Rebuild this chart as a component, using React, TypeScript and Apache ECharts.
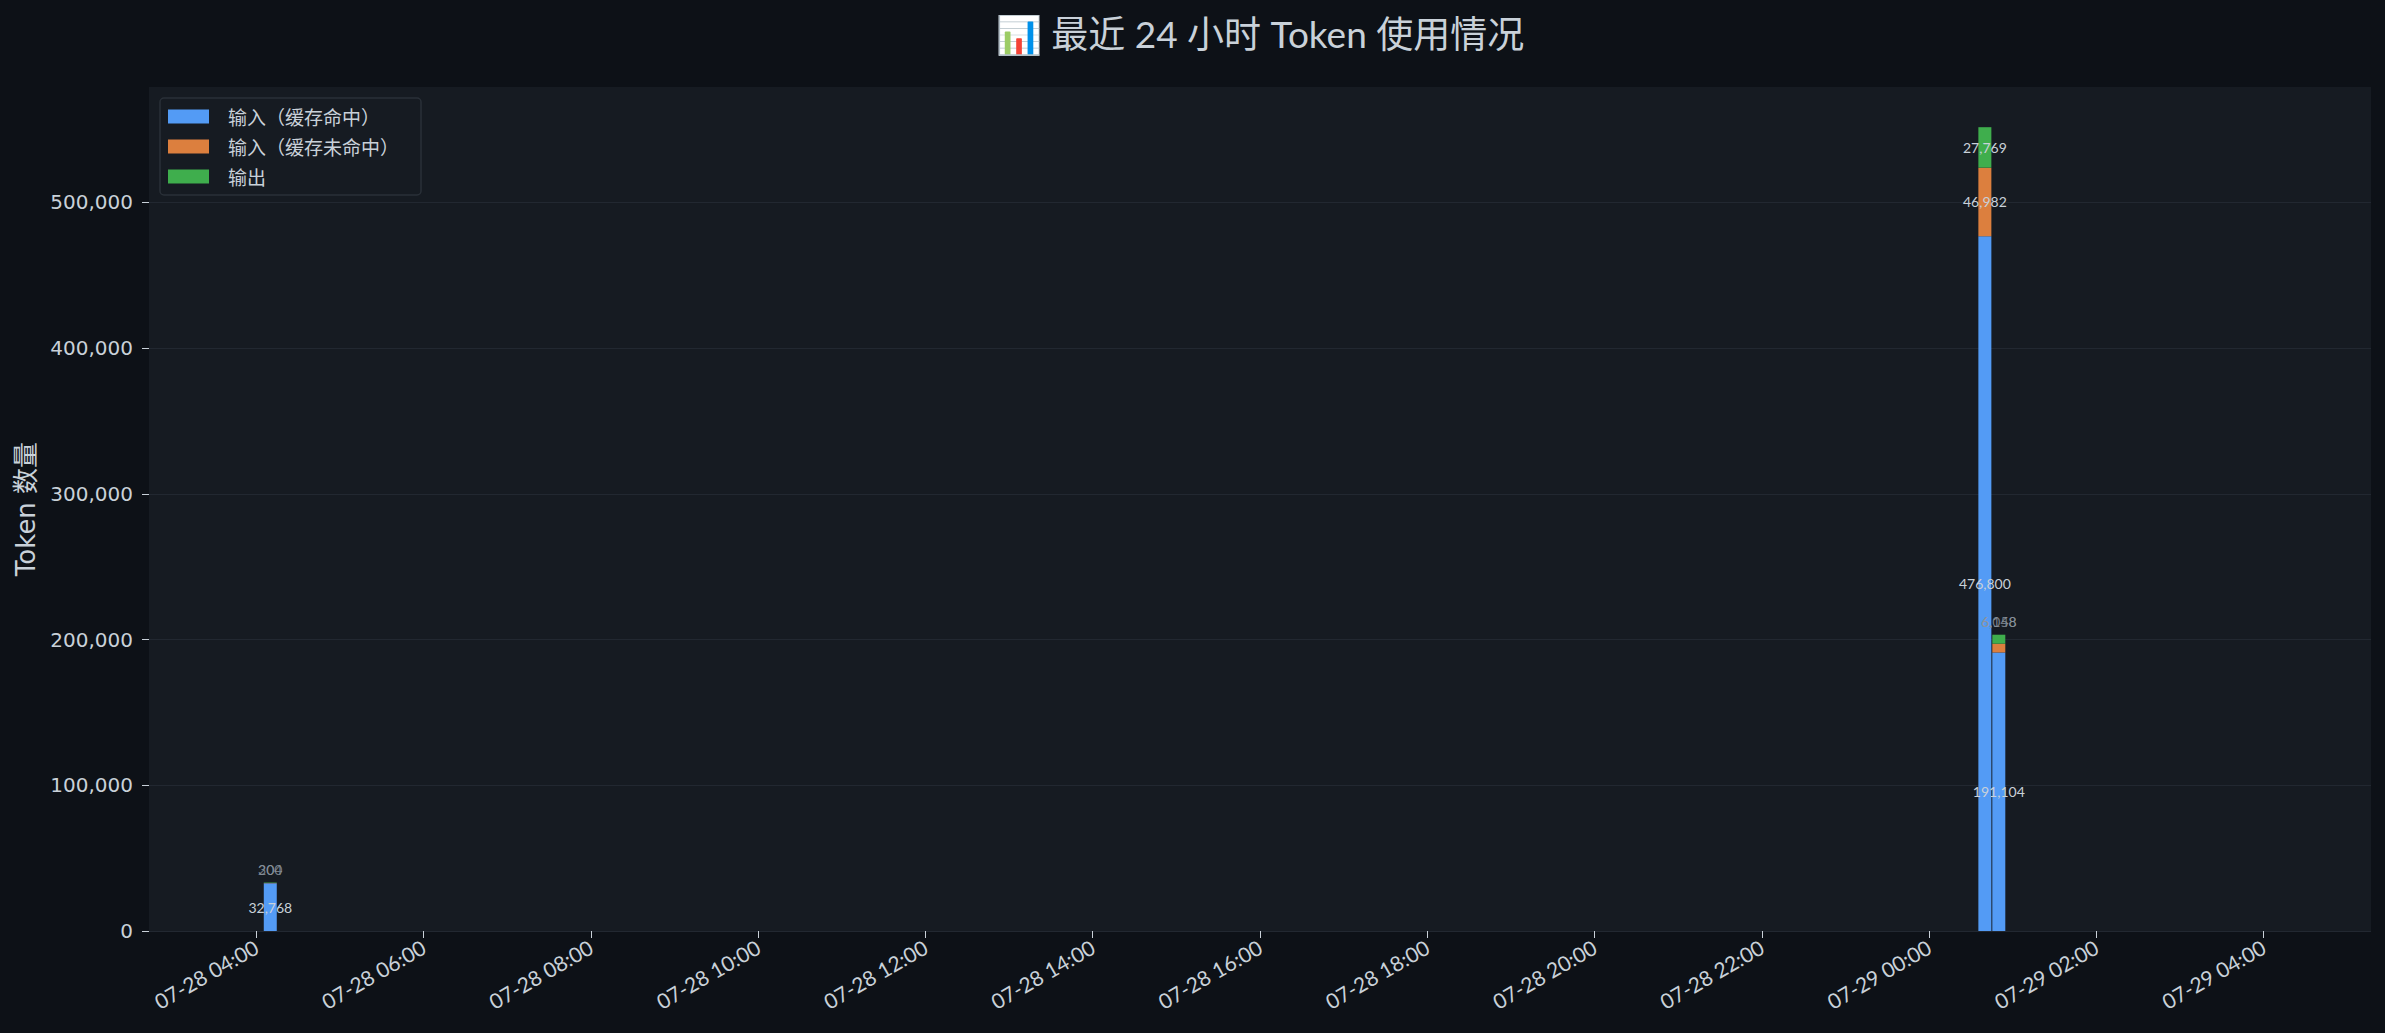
import React, { useEffect, useRef } from 'react';
import * as echarts from 'echarts';

// 10-minute slots that have usage (MM-DD HH:mm)
const slots = ['07-28 04:10', '07-29 00:40', '07-29 00:50'];
const cacheHit = [32768, 476800, 191104];
const cacheMiss = [200, 46982, 6048];
const outputTokens = [304, 27769, 6158];

const seriesNames = ['输入（缓存命中）', '输入（缓存未命中）', '输出'];
const seriesColors = ['#539bf5', '#dc7f3e', '#3fae4d'];

const xTicks = [
  '07-28 04:00', '07-28 06:00', '07-28 08:00', '07-28 10:00', '07-28 12:00',
  '07-28 14:00', '07-28 16:00', '07-28 18:00', '07-28 20:00', '07-28 22:00',
  '07-29 00:00', '07-29 02:00', '07-29 04:00',
];
const xStart = '07-28 02:43';
const xEnd = '07-29 05:17';
const yTicks = [0, 100000, 200000, 300000, 400000, 500000];
const yMax = 579128;

const TEXT = '#c9d1d9';
const GRID = { left: 149, right: 14, top: 87, bottom: 102 };
const CHART_W = 2385;
const BAR_W = 13;

const pad = (n: number) => String(n).padStart(2, '0');
// times are kept in UTC so the page's time zone does not matter
const toMs = (s: string) => {
  const [date, time] = s.split(' ');
  const [mo, day] = date.split('-').map(Number);
  const [h, m] = time.split(':').map(Number);
  return Date.UTC(2025, mo - 1, day, h, m);
};
const fmtTime = (v: number) => {
  const d = new Date(v);
  return `${pad(d.getUTCMonth() + 1)}-${pad(d.getUTCDate())} ${pad(d.getUTCHours())}:${pad(d.getUTCMinutes())}`;
};
const fmtNum = (v: number) => v.toLocaleString('en-US');

const App: React.FC = () => {
  const chartRef = useRef<HTMLDivElement>(null);

  useEffect(() => {
    if (!chartRef.current) return;
    const chart = echarts.init(chartRef.current, null, { renderer: 'svg' });

    const xs = slots.map(toMs);
    const groups = [cacheHit, cacheMiss, outputTokens];
    const totals = xs.map((_, j) => groups.reduce((s, g) => s + g[j], 0));
    const maxTotal = Math.max(...totals);
    const threshold = maxTotal * 0.03;
    const lift = yMax * 0.016;

    // echarts widens a bar axis by one bar width; shrink the requested extent
    // so that after widening it equals the label axis extent
    const x0 = toMs(xStart);
    const x1 = toMs(xEnd);
    const plotW = CHART_W - GRID.left - GRID.right;
    const trim = ((x1 - x0) * BAR_W) / plotW / 2;

    const barSeries = groups.map((vals, i) => ({
      name: seriesNames[i],
      type: 'bar',
      stack: 'tokens',
      xAxisIndex: 0,
      barWidth: BAR_W,
      itemStyle: { color: seriesColors[i] },
      label: {
        show: true,
        position: 'inside',
        color: TEXT,
        fontFamily: 'Lato',
        fontSize: 14,
        formatter: (p: any) => fmtNum(p.value[1]),
      },
      data: vals.map((v, j) => ({
        value: [xs[j], v],
        label: { show: v >= threshold },
      })),
    }));

    // segments too thin for an inside label get theirs just above the stack
    const smallLabels: any[] = [];
    groups.forEach((vals) => {
      vals.forEach((v, j) => {
        if (v < threshold) smallLabels.push([xs[j], totals[j] + lift, v]);
      });
    });

    const tickValues = xTicks.map(toMs);

    chart.setOption({
      animation: false,
      backgroundColor: '#0d1117',
      graphic: [
        {
          type: 'text',
          x: 1260,
          y: 33,
          style: {
            text: '📊 最近 24 小时 Token 使用情况',
            fill: TEXT,
            fontSize: 37,
            fontFamily: "Lato, 'Noto Sans CJK SC'",
            textAlign: 'center',
            textVerticalAlign: 'middle',
          },
        },
      ],
      grid: {
        ...GRID,
        show: true,
        backgroundColor: '#161b22',
        borderWidth: 0,
      },
      legend: {
        data: seriesNames,
        orient: 'vertical',
        left: 160,
        top: 98,
        icon: 'rect',
        itemWidth: 41,
        itemHeight: 14,
        itemGap: 11,
        padding: [9, 22, 9, 8],
        backgroundColor: '#161b22',
        borderColor: '#2a3038',
        borderWidth: 1.5,
        borderRadius: 4,
        textStyle: {
          color: TEXT,
          fontSize: 19,
          fontFamily: "'Noto Sans CJK SC'",
          padding: [0, 0, 0, 14],
        },
      },
      xAxis: [
        {
          // time axis carries the bars (stacks by index)
          type: 'time',
          min: x0 + trim,
          max: x1 - trim,
          axisLine: { show: false },
          axisTick: { show: false },
          axisLabel: { show: false },
          splitLine: { show: false },
        },
        {
          // value axis with the same extent draws the 2-hour ticks and labels
          type: 'value',
          position: 'bottom',
          min: x0,
          max: x1,
          axisLine: { show: false },
          splitLine: { show: false },
          axisTick: {
            show: true,
            length: 7,
            lineStyle: { color: TEXT },
            customValues: tickValues,
          },
          axisLabel: {
            customValues: tickValues,
            formatter: (v: number) => fmtTime(v),
            rotate: 30,
            margin: 14,
            color: TEXT,
            fontSize: 21,
            fontFamily: 'Lato',
          },
        },
      ],
      yAxis: {
        type: 'value',
        min: 0,
        max: yMax,
        name: 'Token 数量',
        nameLocation: 'middle',
        nameGap: 110,
        nameTextStyle: {
          color: TEXT,
          fontSize: 26,
          fontFamily: "'DejaVu Sans', 'Noto Sans CJK SC'",
        },
        axisLine: { show: false },
        axisTick: {
          show: true,
          length: 7,
          lineStyle: { color: TEXT },
          customValues: yTicks,
        },
        axisLabel: {
          customValues: yTicks,
          formatter: (v: number) => fmtNum(v),
          margin: 16,
          color: TEXT,
          fontSize: 20,
          fontFamily: "'DejaVu Sans'",
        },
        splitLine: { show: true, lineStyle: { color: '#222831', width: 1 } },
      },
      series: [
        ...barSeries,
        {
          name: 'small-labels',
          type: 'scatter',
          xAxisIndex: 0,
          symbolSize: 0,
          silent: true,
          z: 5,
          label: {
            show: true,
            position: 'inside',
            color: '#8b949e',
            fontFamily: 'Lato',
            fontSize: 14,
            formatter: (p: any) => fmtNum(p.value[2]),
          },
          data: smallLabels,
        },
      ],
    });

    return () => {
      chart.dispose();
    };
  }, []);

  return (
    <div
      ref={chartRef}
      style={{ position: 'fixed', left: 0, top: 0, width: CHART_W, height: 1033 }}
    />
  );
};

export default App;
